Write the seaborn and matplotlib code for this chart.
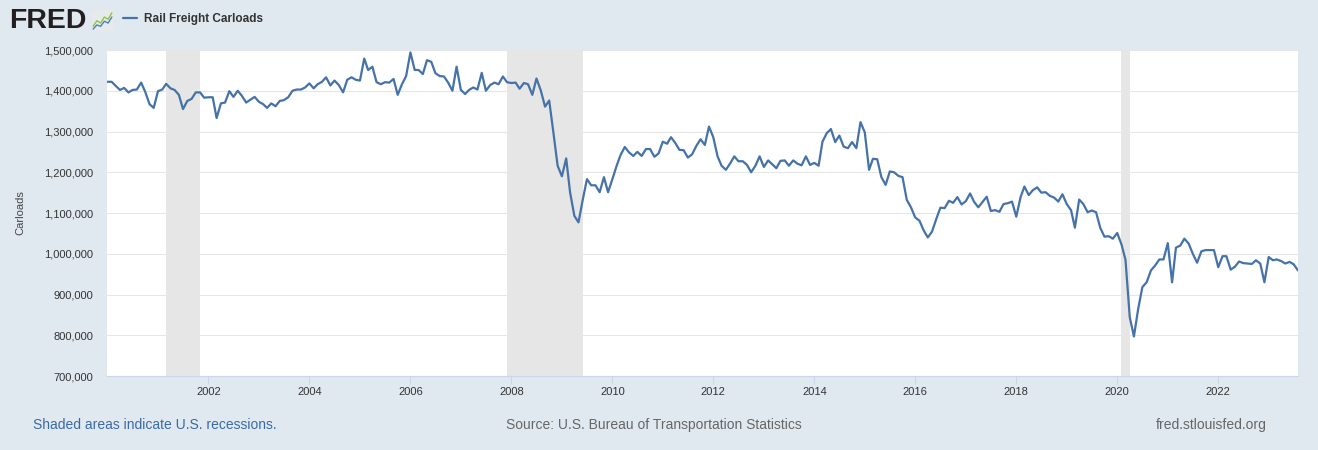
import numpy as np
import pandas as pd
import matplotlib
matplotlib.use("Agg")
import matplotlib.pyplot as plt
import matplotlib.dates as mdates
import matplotlib.ticker as mticker
import seaborn as sns

# ---------------- data ----------------
series_name = "Rail Freight Carloads"
start_month = "2000-01-01"
carloads_k = [
    1422, 1422, 1412, 1402, 1407, 1396, 1402, 1403, 1420, 1397, 1367, 1358,
    1399, 1403, 1417, 1406, 1402, 1390, 1355, 1375, 1380, 1396, 1396, 1383,
    1384, 1384, 1333, 1369, 1371, 1399, 1385, 1400, 1387, 1371, 1378, 1385,
    1373, 1367, 1358, 1369, 1362, 1375, 1377, 1384, 1400, 1403, 1403, 1408,
    1418, 1406, 1416, 1422, 1433, 1413, 1425, 1414, 1396, 1427, 1433, 1427,
    1425, 1479, 1451, 1459, 1421, 1416, 1421, 1420, 1429, 1390, 1416, 1436,
    1494, 1451, 1451, 1441, 1475, 1471, 1443, 1436, 1435, 1420, 1400, 1459,
    1402, 1392, 1402, 1408, 1403, 1444, 1400, 1414, 1420, 1416, 1435, 1421,
    1419, 1420, 1405, 1419, 1416, 1390, 1430, 1401, 1361, 1376, 1296, 1216,
    1190, 1234, 1151, 1093, 1077, 1133, 1183, 1168, 1168, 1151, 1188, 1151,
    1183, 1216, 1242, 1262, 1249, 1240, 1250, 1240, 1257, 1257, 1238, 1246,
    1275, 1270, 1286, 1272, 1255, 1254, 1236, 1244, 1265, 1281, 1267, 1312,
    1286, 1239, 1216, 1206, 1221, 1239, 1227, 1227, 1218, 1200, 1216, 1239,
    1213, 1229, 1220, 1210, 1228, 1229, 1216, 1229, 1221, 1217, 1239, 1218,
    1223, 1216, 1275, 1296, 1306, 1274, 1290, 1263, 1259, 1274, 1259, 1323,
    1298, 1206, 1233, 1232, 1188, 1169, 1202, 1200, 1191, 1188, 1132, 1114,
    1089, 1081, 1058, 1040, 1054, 1085, 1113, 1112, 1130, 1125, 1139, 1121,
    1129, 1148, 1128, 1114, 1127, 1140, 1105, 1107, 1103, 1122, 1124, 1128,
    1091, 1139, 1165, 1144, 1156, 1163, 1150, 1151, 1142, 1138, 1128, 1146,
    1122, 1107, 1064, 1133, 1122, 1102, 1106, 1102, 1063, 1042, 1043, 1037,
    1051, 1023, 985, 844, 797, 865, 918, 930, 959, 971, 986, 986,
    1026, 930, 1015, 1020, 1037, 1025, 1000, 978, 1006, 1009, 1009, 1009,
    967, 994, 994, 961, 968, 981, 977, 976, 975, 984, 976, 930,
    992, 984, 986, 982, 976, 980, 974, 959,
]
recession_starts = ["2001-03-01", "2007-12-01", "2020-02-01"]
recession_ends = ["2001-11-01", "2009-06-01", "2020-04-01"]
y_ticks = [700000, 800000, 900000, 1000000, 1100000, 1200000, 1300000, 1400000, 1500000]
x_tick_years = [2002, 2004, 2006, 2008, 2010, 2012, 2014, 2016, 2018, 2020, 2022]
y_label = "Carloads"
footer_left = "Shaded areas indicate U.S. recessions."
footer_mid = "Source: U.S. Bureau of Transportation Statistics"
footer_right = "fred.stlouisfed.org"
logo_text = "FRED"
logo_green = [1.0, 2.2, 1.7, 3.0, 2.5, 3.9]
logo_blue = [0.4, 1.3, 1.0, 2.1, 1.7, 3.0]

dates = pd.date_range(start_month, periods=len(carloads_k), freq="MS")
df = pd.DataFrame({"date": dates, "carloads": np.array(carloads_k) * 1000})

# ---------------- style ----------------
sns.set_theme(style="white")
plt.rcParams["font.family"] = ["Liberation Sans", "DejaVu Sans"]

BG = "#E1E9F0"
LINE = "#4572A7"
W, H = 1318, 450

fig = plt.figure(figsize=(W / 100, H / 100), dpi=100, facecolor=BG)
left, right, top, bottom = 107.4, 1298, 50, 376
ax = fig.add_axes([left / W, 1 - bottom / H, (right - left) / W, (bottom - top) / H])
ax.set_facecolor("white")

for s, e in zip(recession_starts, recession_ends):
    ax.axvspan(pd.Timestamp(s), pd.Timestamp(e), color="#e6e6e6", lw=0, zorder=1)

sns.lineplot(data=df, x="date", y="carloads", ax=ax, color=LINE, lw=1.6,
             label=series_name, zorder=3)
handles, labels = ax.get_legend_handles_labels()
ax.get_legend().remove()

ax.set_ylim(y_ticks[0], y_ticks[-1])
ax.set_yticks(y_ticks)
ax.yaxis.set_major_formatter(mticker.StrMethodFormatter("{x:,.0f}"))
ax.set_xlim(dates[0], dates[-1])
ax.set_xticks([mdates.date2num(pd.Timestamp(f"{y}-01-01")) for y in x_tick_years])
ax.xaxis.set_major_formatter(mdates.DateFormatter("%Y"))

ax.set_axisbelow(True)
ax.yaxis.grid(True, color="#e6e6e6", lw=0.75, zorder=0)
ax.xaxis.grid(False)
for sp in ["top", "right", "left"]:
    ax.spines[sp].set_visible(False)
ax.spines["bottom"].set_color("#ccd6eb")
ax.spines["bottom"].set_linewidth(0.8)
ax.tick_params(axis="x", length=6, width=0.8, color="#ccd6eb", pad=2,
               labelsize=8, labelcolor="#333333", bottom=True)
ax.tick_params(axis="y", length=0, pad=10, labelsize=8, labelcolor="#333333")
ax.set_xlabel("")
ax.set_ylabel("")
fig.text(20 / W, 1 - 213 / H, y_label, rotation=90, ha="center", va="center",
         fontsize=8, color="#444444")

# ---------------- header ----------------
fig.text(9 / W, 1 - 20.5 / H, logo_text, ha="left", va="center", fontsize=20.5,
         fontweight="bold", color="#231f20")
icon = fig.add_axes([92 / W, 1 - 31 / H, 21 / W, 21 / H])
icon.set_facecolor("#e6eaed")
icon.plot(range(len(logo_green)), logo_green, color="#8dc63f", lw=1.0)
icon.plot(range(len(logo_blue)), logo_blue, color="#4f81bd", lw=1.0)
icon.set_xticks([]); icon.set_yticks([])
for sp in icon.spines.values():
    sp.set_visible(False)
icon.set_xlim(-0.3, len(logo_green) - 0.7)
icon.set_ylim(0, 4.5)

fig.legend(handles=handles, labels=labels, loc="center left",
           bbox_to_anchor=(123 / W, 1 - 19 / H), frameon=False,
           handlelength=1.2, handletextpad=0.6, borderpad=0, borderaxespad=0,
           prop={"size": 8.5, "weight": "bold"}, labelcolor="#333333")

# ---------------- footer ----------------
fig.text(33 / W, 1 - 425 / H, footer_left, ha="left", va="center",
         fontsize=10, color="#3a6aa6")
fig.text(654 / W, 1 - 425 / H, footer_mid, ha="center", va="center",
         fontsize=10, color="#666666")
fig.text(1267 / W, 1 - 425 / H, footer_right, ha="right", va="center",
         fontsize=10, color="#666666")

fig.savefig("out.png", dpi=100, facecolor=BG)
